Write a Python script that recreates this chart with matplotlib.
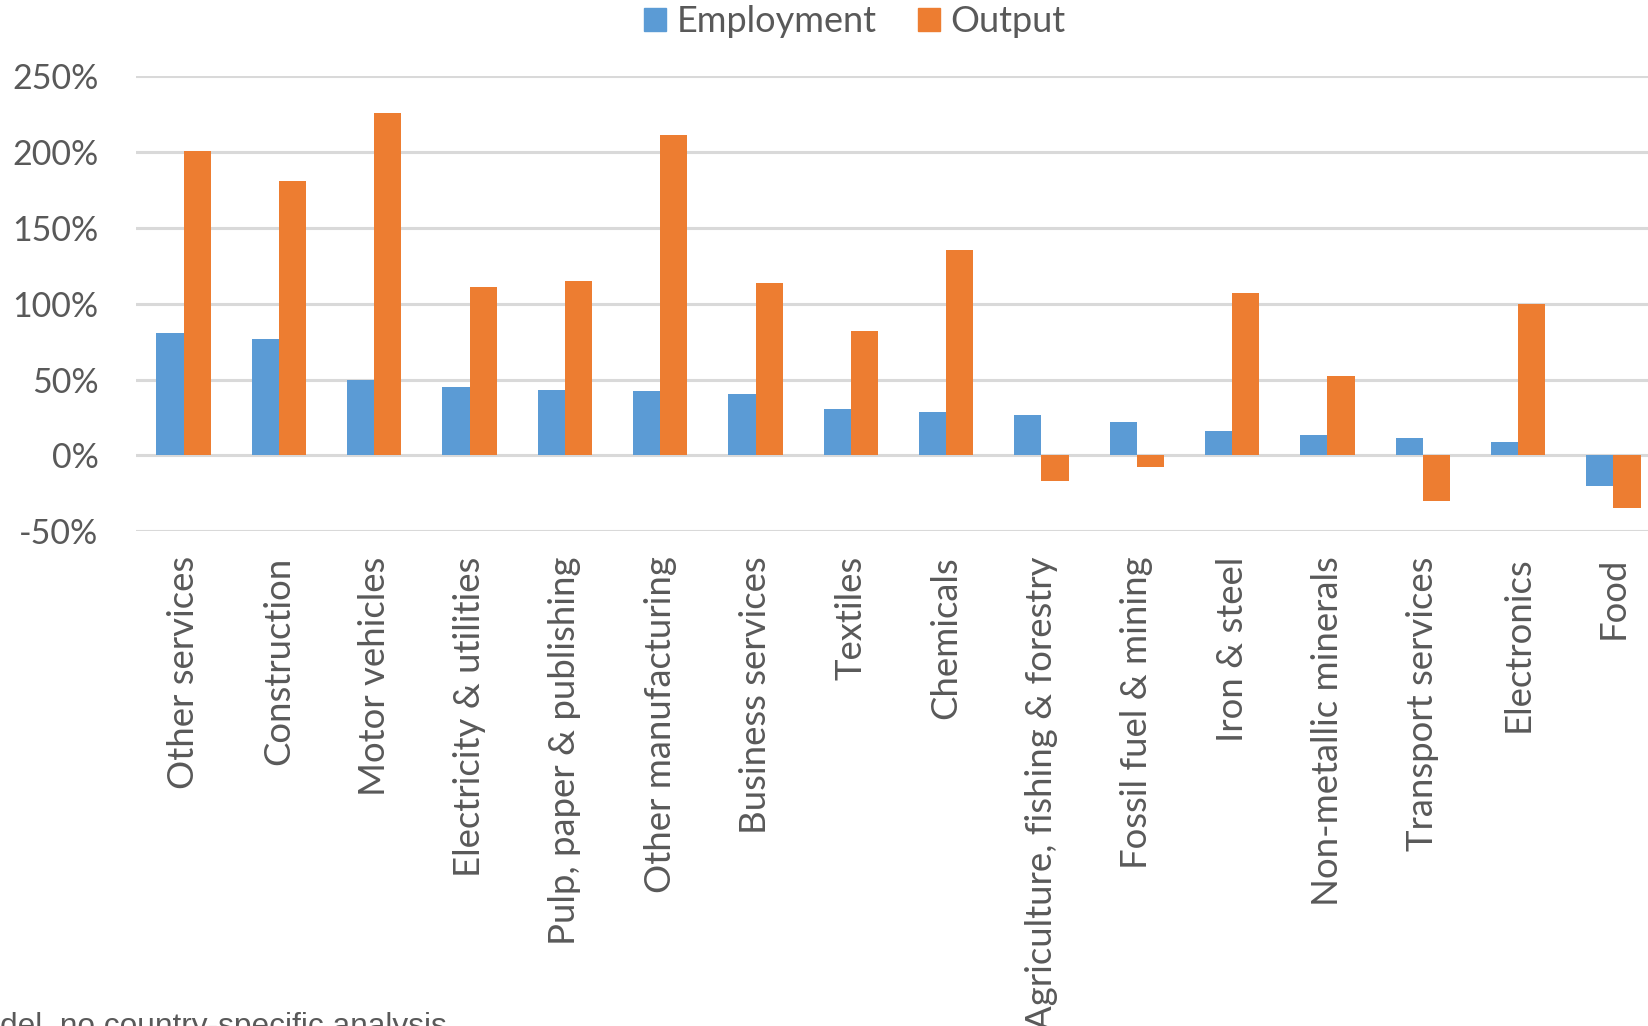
import matplotlib
matplotlib.use("Agg")
import matplotlib.pyplot as plt
import numpy as np
from matplotlib.patches import Patch

categories = ["Other services", "Construction", "Motor vehicles", "Electricity & utilities",
              "Pulp, paper & publishing", "Other manufacturing", "Business services", "Textiles",
              "Chemicals", "Agriculture, fishing & forestry", "Fossil fuel & mining", "Iron & steel",
              "Non-metallic minerals", "Transport services", "Electronics", "Food"]
employment = [81, 76.5, 50, 45.3, 43.3, 42.7, 40.7, 30.6, 28.6, 27, 21.8, 16.2, 13.4, 11.4, 8.8, -20.4]
output = [201, 181, 226, 111, 115, 211.3, 113.9, 82, 135.2, -17, -7.7, 106.9, 52.1, -29.7, 99.6, -34.6]
yticks = [-50, 0, 50, 100, 150, 200, 250]
ytick_labels = ["-50%", "0%", "50%", "100%", "150%", "200%", "250%"]
series_names = ["Employment", "Output"]
note = "del, no country-specific analysis"

BLUE = "#5B9BD5"
ORANGE = "#ED7D31"
TXT = "#595959"
GRID = "#D9D9D9"

plt.rcParams['font.family'] = ['Lato', 'DejaVu Sans']

W, H = 1649, 1026
fig = plt.figure(figsize=(W / 100, H / 100), dpi=100)
left, right = 136 / W, 1661 / W
top, bottom = 1 - 76.3 / H, 1 - 531.3 / H
ax = fig.add_axes([left, bottom, right - left, top - bottom])

x = np.arange(len(categories))
bw = 0.57 / 2
ax.bar(x - bw / 2, employment, width=bw, color=BLUE, zorder=3)
ax.bar(x + bw / 2, output, width=bw, color=ORANGE, zorder=3)

ax.set_xlim(-0.5, len(categories) - 0.5)
ax.set_ylim(-50, 250)
ax.set_yticks(yticks)
ax.set_yticklabels(ytick_labels)
ax.yaxis.grid(True, color=GRID, linewidth=2.2, zorder=0)
ax.set_axisbelow(True)
for s in ax.spines.values():
    s.set_visible(False)
ax.tick_params(axis='y', length=0, pad=27, labelsize=24.5, labelcolor=TXT)
ax.set_xticks(x)
ax.set_xticklabels(categories, rotation=90, va='top', ha='center')
ax.tick_params(axis='x', length=0, pad=18, labelsize=26.3, labelcolor=TXT)

handles = [Patch(color=BLUE), Patch(color=ORANGE)]
fig.legend(handles, series_names, loc='center', bbox_to_anchor=(855 / W, 1 - 21.5 / H),
           ncol=2, frameon=False, fontsize=26, labelcolor=TXT,
           handlelength=0.6, handleheight=0.6, handletextpad=0.3, columnspacing=1.15,
           borderpad=0, borderaxespad=0)

fig.text(0, 1 - 1035 / H, note, fontsize=22.8, color=TXT, family='Liberation Sans',
         ha='left', va='baseline')

fig.savefig("out.png", dpi=100)
